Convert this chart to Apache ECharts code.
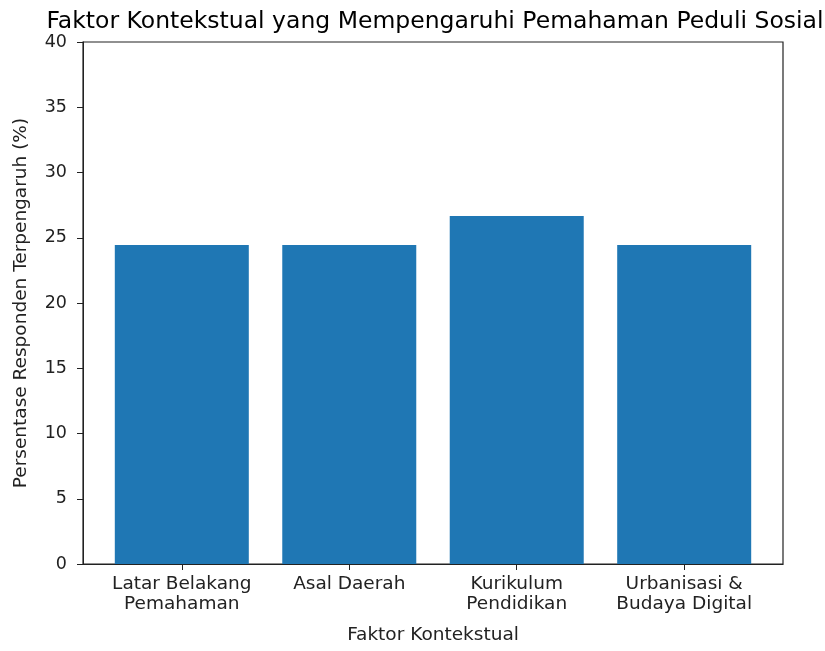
<!DOCTYPE html>
<html><head><meta charset="utf-8">
<script src="https://cdn.jsdelivr.net/npm/echarts@6/dist/echarts.min.js"></script>
<style>html,body{margin:0;padding:0;background:#fff}#c{width:825px;height:651px}</style>
</head><body><div id="c"></div>
<script>
const categories = ["Latar Belakang\nPemahaman", "Asal Daerah", "Kurikulum\nPendidikan", "Urbanisasi &\nBudaya Digital"];
const values = [24.44, 24.44, 26.67, 24.44];
const yTicks = [0, 5, 10, 15, 20, 25, 30, 35, 40];
const positions = [0, 1, 2, 3];

const font = "DejaVu Sans";
const chart = echarts.init(document.getElementById('c'), null, {renderer: 'canvas'});
chart.setOption({
  animation: false,
  backgroundColor: '#fff',
  title: {
    text: 'Faktor Kontekstual yang Mempengaruhi Pemahaman Peduli Sosial',
    left: 430, top: 5, textAlign: 'center',
    textStyle: {fontFamily: font, fontSize: 23.5, fontWeight: 'normal', color: '#000'}
  },
  grid: {left: 83, right: 42, top: 42, bottom: 87, show: true, borderColor: '#222', borderWidth: 1.2, backgroundColor: 'transparent'},
  xAxis: {
    type: 'value', min: -0.59, max: 3.59,
    splitLine: {show: false},
    axisLine: {show: true, onZero: false, lineStyle: {color: '#222'}},
    axisTick: {show: true, customValues: positions, length: 6, lineStyle: {color: '#222'}},
    axisLabel: {customValues: positions, color: '#222', fontFamily: font, fontSize: 18.5, lineHeight: 20, margin: 10,
      formatter: v => categories[Math.round(v)]},
    name: 'Faktor Kontekstual', nameLocation: 'middle', nameGap: 62,
    nameTextStyle: {fontFamily: font, fontSize: 18.5, color: '#222'}
  },
  yAxis: {
    type: 'value', min: 0, max: 40, interval: 5,
    splitLine: {show: false},
    axisLine: {show: true, onZero: false, lineStyle: {color: '#222'}},
    axisTick: {show: true, length: 6, lineStyle: {color: '#222'}},
    axisLabel: {color: '#222', fontFamily: font, fontSize: 17.5, margin: 16,
      formatter: v => yTicks.includes(v) ? String(v) : ''},
    name: 'Persentase Responden Terpengaruh (%)', nameLocation: 'middle', nameGap: 52,
    nameTextStyle: {fontFamily: font, fontSize: 18.5, color: '#222'}
  },
  series: [{
    type: 'bar',
    data: positions.map((p, i) => [p, values[i]]),
    barWidth: 134,
    itemStyle: {color: '#1f77b4'}
  }]
});
</script></body></html>
